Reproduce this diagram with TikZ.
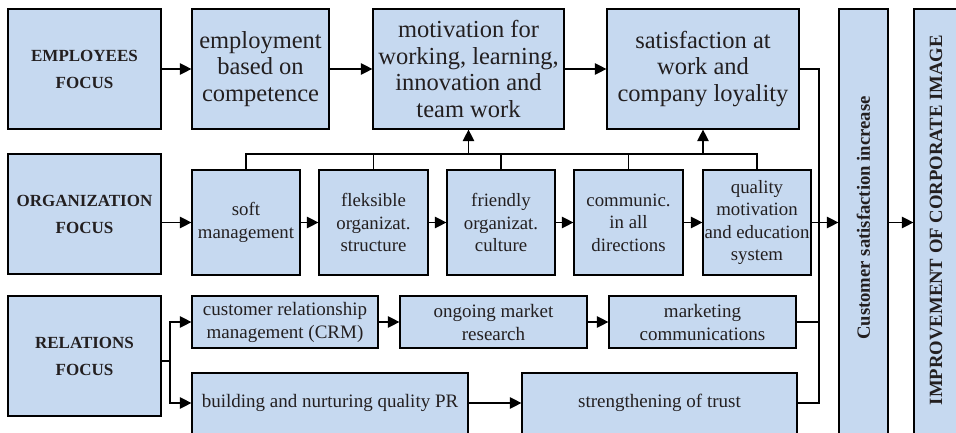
\documentclass[tikz,border=0pt]{standalone}
\usepackage{fontspec}
\setmainfont{Liberation Serif}
\usetikzlibrary{arrows.meta}
\definecolor{boxfill}{HTML}{C6D9F0}
\definecolor{ink}{HTML}{231F20}

\begin{document}
\begin{tikzpicture}[x=1pt,y=-1pt,
  box/.style={draw=black, line width=1.2pt, fill=boxfill, inner sep=0pt, align=center, text=ink},
  focus/.style={box, font=\bfseries\fontsize{17}{27}\selectfont},
  big/.style={box, font=\fontsize{24.5}{26.5}\selectfont},
  mid/.style={box, font=\fontsize{18.8}{22.5}\selectfont},
  low/.style={box, font=\fontsize{19}{23}\selectfont},
  lbl/.style={inner sep=0pt, align=center, text=ink, font=\fontsize{19}{23}\selectfont},
  coltext/.style={rotate=90, inner sep=0pt, text=ink, font=\bfseries\fontsize{18.7}{20}\selectfont},
  wire/.style={line width=1.2pt},
  arr/.style={wire, -{Triangle[length=11.5pt,width=11.5pt]}}
]
\useasboundingbox (0,0) rectangle (956,433);
\clip (0,0) rectangle (956,433);

% first row: employees
\node[focus, minimum width=153pt, minimum height=120pt] (emp) at (84.5,69) {EMPLOYEES\\FOCUS};
\node[big, minimum width=137pt, minimum height=120pt] (empl) at (260.5,69) {employment\\based on\\competence};
\node[big, minimum width=191pt, minimum height=120pt] (motiv) at (468.5,69) {motivation for\\working, learning,\\innovation and\\team work};
\node[big, minimum width=192pt, minimum height=120pt] (satis) at (703,69) {satisfaction at\\work and\\company loyality};

% second row: organization
\node[focus, minimum width=153pt, minimum height=120pt] (org) at (84.5,214) {ORGANIZATION\\FOCUS};
\node[mid, minimum width=108pt, minimum height=105pt] (soft) at (246,222.5) {soft\\management};
\node[mid, minimum width=109pt, minimum height=105pt] (flek) at (373.5,222.5) {fleksible\\organizat.\\structure};
\node[mid, minimum width=108pt, minimum height=105pt] (friend) at (501,222.5) {friendly\\organizat.\\culture};
\node[mid, minimum width=109pt, minimum height=105pt] (comm) at (628.5,222.5) {communic.\\in all\\directions};
\node[mid, minimum width=108pt, minimum height=105pt] (qual) at (757,222.5) {quality\\motivation\\and education\\system};

% third row: relations
\node[focus, minimum width=153pt, minimum height=120pt] (rel) at (84.5,356) {RELATIONS\\FOCUS};
\node[low, minimum width=186pt, minimum height=52pt] (crm) at (285,322) {customer relationship\\management (CRM)};
\node[low, minimum width=187pt, minimum height=52pt] (ongo) at (493.5,322) {ongoing market\\research};
\node[low, minimum width=187pt, minimum height=52pt] (mark) at (702.5,322) {marketing\\communications};
\node[box, minimum width=276pt, minimum height=72pt] (pr) at (330,409) {};
\node[lbl] (prlbl) at (330,403) {building and nurturing quality PR};
\node[box, minimum width=275pt, minimum height=72pt] (trust) at (659.5,409) {};
\node[lbl] (trustlbl) at (659.5,403) {strengthening of trust};

% result columns
\node[box, minimum width=49pt, minimum height=436pt] (cust) at (863.5,227) {};
\node[coltext] (custlbl) at (863.5,218) {Customer satisfaction increase};
\node[box, minimum width=48pt, minimum height=436pt] (impr) at (938,227) {};
\node[coltext] (imprlbl) at (936,220) {IMPROVEMENT OF CORPORATE IMAGE};

% helper coordinates
\coordinate (busy) at (0,154);
\coordinate (trunktop) at (819,69);
\coordinate (fork) at (170,361);

% first row chain
\draw[arr] (emp.east) -- (empl.west);
\draw[arr] (empl.east) -- (motiv.west);
\draw[arr] (motiv.east) -- (satis.west);

% second row chain
\draw[arr] (org.east |- soft) -- (soft.west);
\draw[arr] (soft.east) -- (flek.west);
\draw[arr] (flek.east) -- (friend.west);
\draw[arr] (friend.east) -- (comm.west);
\draw[arr] (comm.east) -- (qual.west);

% bus from second row up to the first row
\draw[wire] (soft.north) -- (soft.north |- busy) -- (qual.north |- busy) -- (qual.north);
\draw[wire] (flek.north) -- (flek.north |- busy);
\draw[wire] (friend.north) -- (friend.north |- busy);
\draw[wire] (comm.north) -- (comm.north |- busy);
\draw[arr] (motiv.south |- busy) -- (motiv.south);
\draw[arr] (satis.south |- busy) -- (satis.south);

% third row
\draw[wire] (rel.east |- fork) -- (fork);
\draw[arr] (fork) |- (crm.west);
\draw[arr] (fork) |- (pr.west |- prlbl);
\draw[arr] (crm.east) -- (ongo.west);
\draw[arr] (ongo.east) -- (mark.west);
\draw[arr] (pr.east |- prlbl) -- (trust.west |- prlbl);

% collecting trunk on the right
\draw[wire] (satis.east) -- (trunktop) -- (trunktop |- trustlbl) -- (trust.east |- trustlbl);
\draw[wire] (mark.east) -- (mark.east -| trunktop);
\draw[arr] (qual.east) -- (cust.west |- qual);
\draw[arr] (cust.east |- qual) -- (impr.west |- qual);
\end{tikzpicture}
\end{document}
